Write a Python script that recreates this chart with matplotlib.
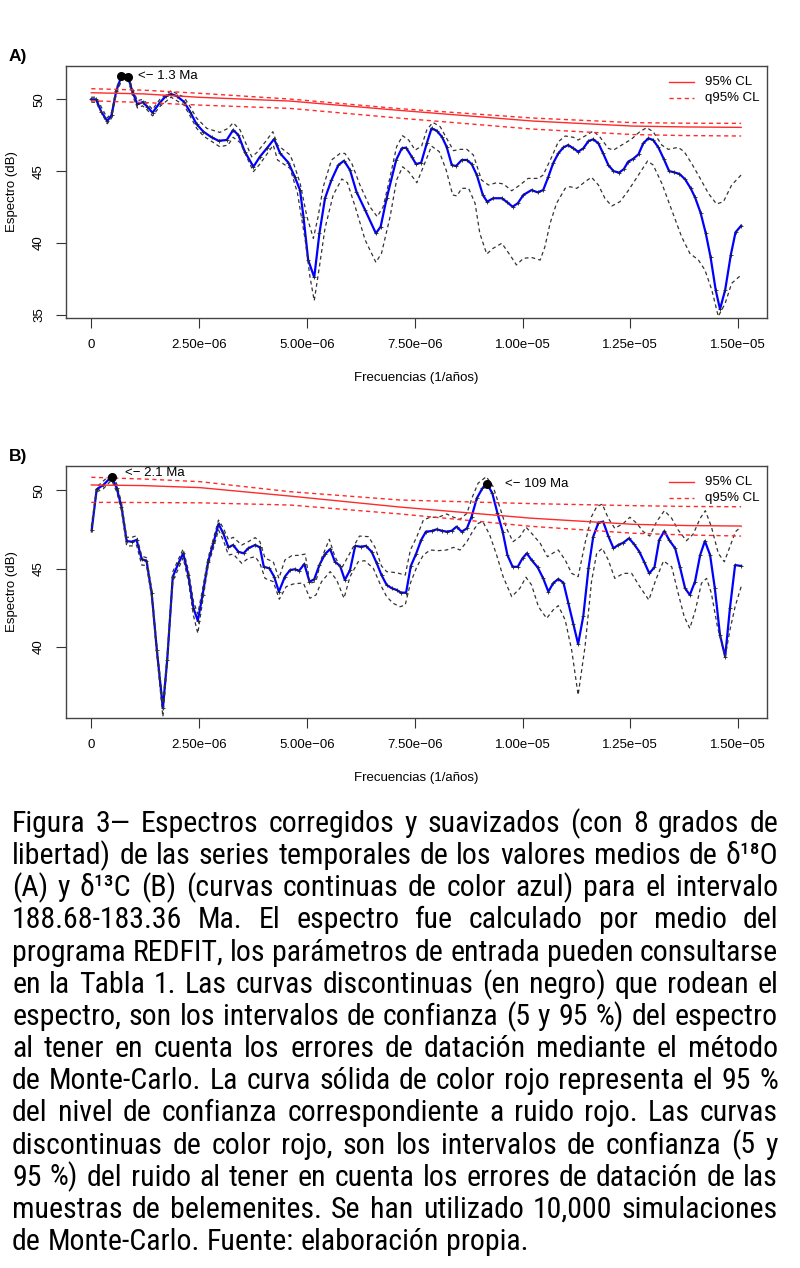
import numpy as np
import matplotlib
matplotlib.use('Agg')
import matplotlib.pyplot as plt
from matplotlib.lines import Line2D
from matplotlib import font_manager

# ---- data (frequencies in units of 1e-6 1/años, spectra in dB) ----
A_f = [0.00, 0.11, 0.23, 0.37, 0.47, 0.58, 0.70, 0.86, 0.94, 1.07, 1.19, 1.30, 1.42, 1.59, 1.73,
       1.85, 1.98, 2.15, 2.29, 2.44, 2.60, 2.79, 2.95, 3.14, 3.29, 3.41, 3.56, 3.76, 3.91, 4.07,
       4.24, 4.38, 4.57, 4.72, 4.84, 4.92, 5.03, 5.17, 5.29, 5.42, 5.57, 5.73, 5.86, 6.00, 6.15,
       6.35, 6.60, 6.71, 6.85, 7.07, 7.20, 7.30, 7.43, 7.53, 7.65, 7.78, 7.89, 8.01, 8.13, 8.24,
       8.36, 8.46, 8.59, 8.71, 8.82, 8.94, 9.08, 9.18, 9.32, 9.52, 9.63, 9.77, 9.89, 10.02, 10.21,
       10.35, 10.48, 10.60, 10.71, 10.83, 10.95, 11.06, 11.18, 11.29, 11.41, 11.53, 11.64, 11.76,
       11.87, 11.99, 12.11, 12.24, 12.35, 12.45, 12.57, 12.69, 12.80, 12.92, 13.03, 13.15, 13.28,
       13.40, 13.52, 13.64, 13.77, 13.90, 14.00, 14.13, 14.25, 14.36, 14.48, 14.58, 14.70, 14.83,
       14.94, 15.07]
A_spec = [50.0, 50.0, 49.15, 48.49, 48.9, 50.6, 51.62, 51.53, 50.65, 49.65, 49.81, 49.49, 49.07, 49.77, 50.23,
          50.37, 50.23, 49.83, 49.14, 48.28, 47.75, 47.36, 47.12, 47.17, 47.87, 47.52, 46.36, 45.31, 46.01, 46.59,
          47.24, 46.24, 45.6, 44.6, 43.69, 41.84, 38.82, 37.62, 40.68, 43.12, 44.39, 45.43, 45.73, 45.08, 43.57,
          42.30, 40.68, 41.14, 43.12, 45.78, 46.59, 46.64, 46.01, 45.50, 45.59, 46.94, 47.98, 47.82, 47.40, 46.70,
          45.43, 45.36, 45.78, 45.78, 45.50, 44.74, 43.35, 42.88, 43.12, 43.12, 42.88, 42.53, 42.77, 43.35, 43.69,
          43.53, 43.69, 44.62, 45.55, 46.24, 46.66, 46.82, 46.59, 46.36, 46.59, 47.10, 47.22, 46.94,
          46.24, 45.43, 45.01, 44.90, 45.15, 45.66, 45.87, 46.18, 46.94, 47.29, 47.17, 46.66, 45.83,
          45.01, 44.92, 44.81, 44.44, 43.81, 43.19, 42.11, 40.68, 39.05, 36.74, 35.40, 36.74, 39.17,
          40.75, 41.21]
A_up_f = [0.00, 0.11, 0.37, 0.47, 0.58, 0.72, 0.86, 0.94, 1.07, 1.19, 1.30, 1.42, 1.59, 1.85, 2.15,
          2.29, 2.44, 2.68, 2.98, 3.17, 3.29, 3.45, 3.72, 3.84, 4.05, 4.21, 4.32, 4.61, 4.69, 4.84,
          5.00, 5.15, 5.26, 5.38, 5.57, 5.77, 5.88, 6.04, 6.23, 6.46, 6.63, 6.77, 6.93, 7.08, 7.22,
          7.36, 7.51, 7.66, 7.78, 7.92, 8.09, 8.24, 8.40, 8.55, 8.71, 8.86, 9.05, 9.21, 9.40, 9.56,
          9.75, 9.94, 10.13, 10.37, 10.48, 10.68, 10.83, 10.99, 11.18, 11.29, 11.49, 11.64, 11.80,
          11.99, 12.11, 12.30, 12.53, 12.72, 12.88, 13.03, 13.23, 13.38, 13.61, 13.75, 13.92, 14.12,
          14.31, 14.50, 14.66, 14.85, 15.07]
A_up = [50.15, 50.15, 48.7, 49.1, 50.8, 51.75, 51.7, 50.85, 49.9, 50.0, 49.7, 49.3, 50.0, 50.6, 50.15,
        49.5, 48.7, 47.98, 47.70, 47.98, 48.37, 47.87, 46.0, 46.3, 47.1, 47.75, 46.82, 46.13, 45.55, 44.2,
        41.84, 40.33, 41.84, 43.92, 45.78, 46.24, 46.24, 45.55, 44.04, 42.53, 41.84, 42.53, 44.62, 46.70, 47.47,
        47.17, 46.47, 46.75, 47.87, 48.40, 48.10, 47.29, 46.43, 46.52, 46.52, 46.13, 44.39, 44.04, 44.20, 44.11,
        43.64, 44.04, 44.50, 44.50, 44.74, 46.01, 47.05, 47.45, 47.36, 47.17, 47.52, 47.80, 47.36,
        46.59, 46.47, 46.82, 47.24, 47.75, 48.03, 47.75, 46.82, 46.52, 46.66, 46.36, 45.55, 44.50,
        43.46, 42.72, 42.88, 44.04, 44.74]
A_lo_f = [0.00, 0.11, 0.37, 0.47, 0.58, 0.72, 0.86, 0.94, 1.07, 1.19, 1.30, 1.42, 1.59, 1.85, 2.15,
          2.29, 2.44, 2.60, 2.98, 3.17, 3.29, 3.45, 3.76, 3.91, 4.22, 4.32, 4.61, 4.78, 4.96, 5.07,
          5.17, 5.29, 5.42, 5.61, 5.81, 5.94, 6.12, 6.35, 6.60, 6.73, 6.93, 7.08, 7.22, 7.36, 7.55,
          7.70, 7.89, 8.07, 8.23, 8.38, 8.48, 8.59, 8.75, 8.90, 9.01, 9.17, 9.32, 9.52, 9.71, 9.86,
          10.02, 10.21, 10.41, 10.52, 10.64, 10.79, 10.99, 11.10, 11.26, 11.45, 11.60, 11.76, 11.91,
          12.07, 12.26, 12.45, 12.69, 12.90, 13.03, 13.23, 13.46, 13.69, 13.88, 14.08, 14.23, 14.39,
          14.54, 14.70, 14.85, 15.07]
A_lo = [49.8, 49.8, 48.3, 48.7, 50.4, 51.45, 51.35, 50.4, 49.4, 49.55, 49.25, 48.85, 49.5, 50.15, 49.6,
        48.85, 48.0, 47.45, 46.70, 46.82, 47.36, 47.0, 44.97, 45.5, 46.82, 45.78, 45.2, 43.5, 40.22, 37.67,
        35.99, 38.36, 41.03, 43.35, 44.46, 44.2, 42.53, 40.22, 38.66, 39.29, 41.84, 44.39, 45.31, 44.97, 44.20,
        45.31, 46.75, 46.36, 45.08, 43.35, 43.28, 43.81, 43.81, 42.77, 40.68, 39.24, 39.64, 39.99, 39.17, 38.48,
        38.94, 39.0, 38.82, 39.75, 41.38, 42.77, 43.81, 43.92, 43.81, 44.27, 44.58, 44.04, 43.12,
        42.58, 42.88, 43.64, 44.74, 45.71, 45.43, 44.16, 42.30, 40.44, 39.29, 38.82, 38.13, 36.74,
        34.9, 35.81, 37.20, 37.78]
A_red_f = [0.0, 1.2, 2.52, 4.61, 7.16, 10.24, 12.56, 13.8, 15.07]
A_red = [50.46, 50.38, 50.14, 49.88, 49.23, 48.49, 48.14, 48.08, 48.05]
A_red_hi = [50.74, 50.64, 50.42, 50.02, 49.35, 48.70, 48.38, 48.34, 48.33]
A_red_lo = [49.90, 49.78, 49.60, 49.37, 48.69, 47.93, 47.55, 47.48, 47.45]
A_peaks_f = [0.70, 0.86]
A_peaks = [51.62, 51.53]

B_f = [0.01, 0.125, 0.28, 0.47, 0.59, 0.70, 0.82, 0.94, 1.05, 1.17, 1.28, 1.40, 1.52, 1.66, 1.76,
       1.89, 2.02, 2.13, 2.25, 2.37, 2.47, 2.58, 2.71, 2.83, 2.95, 3.06, 3.18, 3.29, 3.41, 3.53,
       3.64, 3.80, 3.91, 4.00, 4.13, 4.24, 4.35, 4.49, 4.61, 4.72, 4.82, 4.94, 5.06, 5.17, 5.29,
       5.42, 5.54, 5.65, 5.77, 5.88, 6.00, 6.12, 6.25, 6.37, 6.50, 6.62, 6.73, 6.85, 6.97, 7.08,
       7.18, 7.30, 7.41, 7.53, 7.65, 7.76, 7.89, 8.01, 8.13, 8.24, 8.36, 8.47, 8.59, 8.71, 8.82,
       8.94, 9.07, 9.18, 9.30, 9.42, 9.54, 9.65, 9.77, 9.89, 10.00, 10.10, 10.21, 10.35, 10.48,
       10.60, 10.71, 10.83, 10.95, 11.06, 11.18, 11.29, 11.41, 11.53, 11.64, 11.76, 11.87, 11.99,
       12.11, 12.22, 12.34, 12.47, 12.59, 12.71, 12.82, 12.94, 13.06, 13.17, 13.29, 13.40, 13.54,
       13.65, 13.77, 13.88, 14.00, 14.12, 14.23, 14.35, 14.46, 14.58, 14.70, 14.81, 14.93, 15.07]
B_spec = [47.47, 50.06, 50.34, 50.87, 50.13, 48.95, 46.76, 46.72, 46.83, 45.60, 45.51, 43.43, 39.81, 36.09, 39.17,
          44.49, 45.34, 45.98, 44.59, 42.47, 41.68, 43.32, 45.44, 46.62, 47.85, 47.26, 46.36, 46.51, 46.08, 45.98,
          46.30, 46.51, 46.36, 45.12, 45.02, 44.49, 43.53, 44.49, 44.91, 44.96, 44.87, 45.30, 44.17, 44.32, 45.23,
          45.93, 46.25, 45.44, 45.17, 44.28, 44.91, 46.45, 46.40, 46.45, 46.08, 45.34, 44.59, 43.96, 43.75, 43.64,
          43.47, 43.47, 45.17, 45.93, 46.83, 47.36, 47.40, 47.51, 47.42, 47.36, 47.42, 47.68, 47.36, 47.57, 48.32,
          49.49, 50.13, 50.40, 49.81, 48.53, 47.36, 45.87, 45.12, 45.12, 45.66, 45.98, 45.55, 45.09, 44.38,
          43.53, 44.07, 44.34, 44.10, 42.83, 41.47, 40.19, 41.98, 45.02, 47.04, 47.93, 48.00, 47.08,
          46.30, 46.51, 46.66, 46.94, 46.55, 46.08, 45.44, 44.70, 45.09, 46.83, 47.40, 46.83, 46.30,
          45.12, 43.75, 43.32, 44.17, 45.87, 46.76, 45.87, 43.75, 40.77, 39.38, 42.47, 45.23, 45.17]
B_up_f = [0.00, 0.125, 0.28, 0.47, 0.59, 0.70, 0.82, 0.94, 1.05, 1.17, 1.28, 1.40, 1.52, 1.66, 1.76,
          1.89, 2.02, 2.13, 2.25, 2.37, 2.47, 2.58, 2.71, 2.83, 2.95, 3.06, 3.18, 3.29, 3.49, 3.64,
          3.80, 3.91, 4.03, 4.22, 4.35, 4.49, 4.65, 4.80, 4.96, 5.07, 5.21, 5.34, 5.52, 5.65, 5.80,
          6.07, 6.22, 6.43, 6.58, 6.73, 6.85, 7.08, 7.28, 7.40, 7.55, 7.70, 7.86, 8.05, 8.24, 8.40,
          8.55, 8.71, 8.84, 8.97, 9.16, 9.32, 9.47, 9.63, 9.78, 9.94, 10.08, 10.21, 10.41, 10.58,
          10.71, 10.83, 10.99, 11.14, 11.29, 11.45, 11.60, 11.72, 11.85, 11.99, 12.14, 12.34, 12.49,
          12.65, 12.80, 12.95, 13.11, 13.29, 13.46, 13.61, 13.80, 13.96, 14.12, 14.24, 14.38, 14.54,
          14.68, 14.81, 14.94, 15.07]
B_up = [47.7, 50.2, 50.6, 51.05, 50.4, 49.2, 47.0, 47.0, 47.1, 45.8, 45.7, 43.7, 40.1, 36.4, 39.5,
        44.8, 45.6, 46.25, 44.9, 42.9, 42.1, 43.7, 45.7, 46.9, 48.1, 47.6, 46.85, 47.0, 46.51, 46.72,
        46.98, 46.72, 45.66, 45.44, 44.38, 45.55, 45.83, 45.85, 45.93, 44.07, 44.18, 45.66, 46.87, 45.76, 45.0,
        46.36, 47.08, 47.04, 46.36, 45.17, 44.81, 44.74, 44.59, 46.19, 47.04, 48.10, 48.28, 48.28, 48.49, 48.28,
        48.15, 48.53, 49.59, 50.45, 50.87, 50.23, 48.95, 47.57, 46.72, 47.04, 47.65, 47.26, 46.62, 45.76,
        46.0, 46.19, 45.55, 44.70, 44.49, 46.62, 48.32, 48.95, 49.12, 48.21, 47.57, 47.89, 48.28,
        47.89, 47.36, 47.08, 48.0, 48.70, 48.21, 47.47, 46.78, 47.21, 48.21, 48.70, 47.68, 45.98,
        45.44, 46.40, 47.36, 47.68]
B_lo_f = [0.00, 0.125, 0.28, 0.47, 0.59, 0.70, 0.82, 0.94, 1.05, 1.17, 1.28, 1.40, 1.52, 1.66, 1.76,
          1.89, 2.02, 2.13, 2.25, 2.37, 2.47, 2.58, 2.71, 2.83, 2.95, 3.06, 3.18, 3.29, 3.49, 3.64,
          3.80, 3.91, 4.03, 4.22, 4.36, 4.52, 4.68, 4.84, 4.92, 5.07, 5.21, 5.34, 5.54, 5.69, 5.86,
          6.00, 6.19, 6.34, 6.54, 6.69, 6.85, 7.00, 7.16, 7.28, 7.40, 7.55, 7.70, 7.86, 8.05, 8.24,
          8.40, 8.55, 8.71, 8.84, 8.97, 9.08, 9.24, 9.40, 9.55, 9.75, 9.94, 10.08, 10.21, 10.37,
          10.56, 10.71, 10.83, 10.99, 11.14, 11.29, 11.45, 11.60, 11.72, 11.85, 11.99, 12.14, 12.34,
          12.53, 12.72, 12.93, 13.09, 13.27, 13.46, 13.61, 13.75, 13.88, 14.01, 14.15, 14.27, 14.38,
          14.52, 14.70, 14.81, 14.93, 15.07]
B_lo = [47.3, 49.9, 50.1, 50.65, 49.9, 48.7, 46.45, 46.45, 46.5, 45.23, 45.2, 43.2, 39.5, 35.55, 38.9,
        44.2, 45.0, 45.7, 44.2, 42.0, 40.87, 42.9, 45.2, 46.3, 47.47, 46.83, 45.87, 45.93, 45.34, 45.66,
        45.76, 45.34, 44.38, 44.17, 43.05, 43.85, 44.02, 44.07, 44.07, 43.11, 43.32, 44.17, 44.81, 44.28, 43.11,
        44.49, 45.44, 45.51, 45.02, 44.07, 43.21, 42.79, 42.57, 42.68, 44.07, 45.12, 45.87, 46.19, 46.15, 46.19,
        46.36, 46.19, 46.72, 47.36, 47.89, 48.0, 47.15, 45.87, 44.49, 43.21, 43.75, 44.45, 43.96, 42.57,
        41.83, 42.36, 42.64, 41.72, 39.81, 36.94, 40.02, 44.17, 45.98, 46.30, 45.55, 44.38, 44.70,
        44.70, 43.85, 43.0, 44.28, 45.49, 45.12, 43.43, 41.94, 41.19, 42.36, 44.07, 44.38, 43.43,
        41.30, 39.38, 41.08, 42.57, 43.85]
B_red_f = [0.0, 1.2, 2.52, 4.61, 7.16, 10.2, 12.56, 13.8, 15.07]
B_red = [50.34, 50.30, 50.17, 49.63, 48.93, 48.22, 47.83, 47.75, 47.72]
B_red_hi = [50.83, 50.72, 50.55, 49.91, 49.38, 49.15, 49.02, 48.97, 48.95]
B_red_lo = [49.23, 49.22, 49.20, 49.06, 48.49, 47.70, 47.26, 47.15, 47.08]
B_peaks_f = [0.47, 9.18]
B_peaks = [50.87, 50.40]

xticks = [0, 2.5e-6, 5e-6, 7.5e-6, 1e-5, 1.25e-5, 1.5e-5]
xtick_labels = ['0', '2.50e\u221206', '5.00e\u221206', '7.50e\u221206',
                '1.00e\u221205', '1.25e\u221205', '1.50e\u221205']

caption = [
    "Figura 3\u2014 Espectros corregidos y suavizados (con 8 grados de",
    "libertad) de las series temporales de los valores medios de \u03b4\u00b9\u2078O",
    "(A) y \u03b4\u00b9\u00b3C (B) (curvas continuas de color azul) para el intervalo",
    "188.68-183.36 Ma. El espectro fue calculado por medio del",
    "programa REDFIT, los par\u00e1metros de entrada pueden consultarse",
    "en la Tabla 1. Las curvas discontinuas (en negro) que rodean el",
    "espectro, son los intervalos de confianza (5 y 95 %) del espectro",
    "al tener en cuenta los errores de dataci\u00f3n mediante el m\u00e9todo",
    "de Monte-Carlo. La curva s\u00f3lida de color rojo representa el 95 %",
    "del nivel de confianza correspondiente a ruido rojo. Las curvas",
    "discontinuas de color rojo, son los intervalos de confianza (5 y",
    "95 %) del ruido al tener en cuenta los errores de dataci\u00f3n de las",
    "muestras de belemenites. Se han utilizado 10,000 simulaciones",
    "de Monte-Carlo. Fuente: elaboraci\u00f3n propia.",
]

# ---- figure ----
plt.rcParams['font.family'] = ['Liberation Sans', 'DejaVu Sans']
W, H = 800, 1268
fig = plt.figure(figsize=(W / 100, H / 100), dpi=100)


def fx(px):
    return px / W


def fy(py):
    return 1 - py / H


FS = 9.5
E6 = 1e-6
RED = '#ff2a2a'


def panel(top, bottom, ylim, yticks, f, spec, up_f, up, lo_f, lo, red_f, red, red_hi, red_lo,
          pk_f, pk, notes, label, legend_y):
    ax = fig.add_axes([fx(66), fy(bottom), fx(766.7) - fx(66), fy(top) - fy(bottom)])
    f = np.array(f) * E6
    ax.plot(f, spec, color='#0000ff', lw=1.6, zorder=2)
    ax.plot(f, spec, ls='none', marker='+', ms=2.5, mew=0.6, color='#222222', zorder=3)
    ax.plot(np.array(up_f) * E6, up, color='#333333', lw=0.9, dashes=(3, 2.5), zorder=4)
    ax.plot(np.array(lo_f) * E6, lo, color='#333333', lw=0.9, dashes=(3, 2.5), zorder=4)
    rf = np.array(red_f) * E6
    ax.plot(rf, red, color=RED, lw=1.0, zorder=5)
    ax.plot(rf, red_hi, color=RED, lw=1.0, dashes=(3, 2.5), zorder=5)
    ax.plot(rf, red_lo, color=RED, lw=1.0, dashes=(3, 2.5), zorder=5)
    ax.plot(np.array(pk_f) * E6, pk, ls='none', marker='o', ms=5.5, color='black', zorder=6)
    for nx, ny, txt in notes:
        ax.text(nx * E6, ny, txt, fontsize=FS, ha='left', va='center')

    ax.set_xlim(-0.5867e-6, 15.663e-6)
    ax.set_ylim(*ylim)
    ax.set_xticks(xticks)
    ax.set_xticklabels(xtick_labels)
    ax.set_yticks(yticks)
    ax.set_yticklabels([str(v) for v in yticks], rotation=90, va='center')
    ax.tick_params(direction='out', length=7, width=0.8, color='#333333',
                   labelsize=FS, pad=8, top=False, right=False)
    for s in ax.spines.values():
        s.set_color('#444444')
        s.set_linewidth(1.0)

    # axis titles and panel label
    fig.text(fx(416), fy(bottom + 60.5), 'Frecuencias (1/a\u00f1os)', fontsize=FS, ha='center', va='center')
    fig.text(fx(12), fy((top + bottom) / 2), 'Espectro (dB)', fontsize=FS, rotation=90,
             ha='center', va='center')
    fig.text(fx(9), fy(top - 9), label, fontsize=12.5, fontweight='bold', ha='left', va='center')

    # legend, top right inside the box
    for k, (txt, dash) in enumerate([('95% CL', None), ('q95% CL', (3, 2.5))]):
        yy = fy(legend_y + 16.6 * k)
        ln = Line2D([fx(669), fx(694)], [yy, yy], transform=fig.transFigure, color=RED, lw=1.0)
        if dash:
            ln.set_dashes(dash)
        fig.add_artist(ln)
        fig.text(fx(705), yy, txt, fontsize=FS, ha='left', va='center')
    return ax


panel(66, 317.7, (34.81, 52.32), [35, 40, 45, 50], A_f, A_spec, A_up_f, A_up, A_lo_f, A_lo,
      A_red_f, A_red, A_red_hi, A_red_lo, A_peaks_f, A_peaks,
      [(1.08, 51.62, '<\u2212 1.3 Ma')], 'A)', 81.7)
panel(466, 717.7, (35.49, 51.55), [40, 45, 50], B_f, B_spec, B_up_f, B_up, B_lo_f, B_lo,
      B_red_f, B_red, B_red_hi, B_red_lo, B_peaks_f, B_peaks,
      [(0.78, 51.12, '<\u2212 2.1 Ma'), (9.59, 50.40, '<\u2212 109 Ma')], 'B)', 481.7)

# ---- justified caption ----
names = {f.name for f in font_manager.fontManager.ttflist}
cap_family = [n for n in ('Roboto Condensed', 'Liberation Sans') if n in names]
cap_family.append('DejaVu Sans')
renderer = fig.canvas.get_renderer()
x0, x1 = 12, 778
base0, step = 832, 32.15


def width_of(s, size):
    t = fig.text(0, 0, s, fontsize=size, family=cap_family)
    w = t.get_window_extent(renderer).width
    t.remove()
    return w


ref = 20
natural = max(width_of(line, ref) for line in caption[:-1])
cap_size = min(ref * (x1 - x0) / natural, 21.5)
space = width_of('a a', cap_size) - width_of('aa', cap_size)

for i, line in enumerate(caption):
    words = line.split(' ')
    yy = fy(base0 + i * step)
    texts = [fig.text(0, yy, w, fontsize=cap_size, family=cap_family, va='baseline', ha='left')
             for w in words]
    widths = [t.get_window_extent(renderer).width for t in texts]
    if i == len(caption) - 1:
        gap = space
    else:
        gap = (x1 - x0 - sum(widths)) / (len(words) - 1)
    x = x0
    for t, w in zip(texts, widths):
        t.set_x(fx(x))
        x += w + gap

fig.savefig('out.png', dpi=100)
